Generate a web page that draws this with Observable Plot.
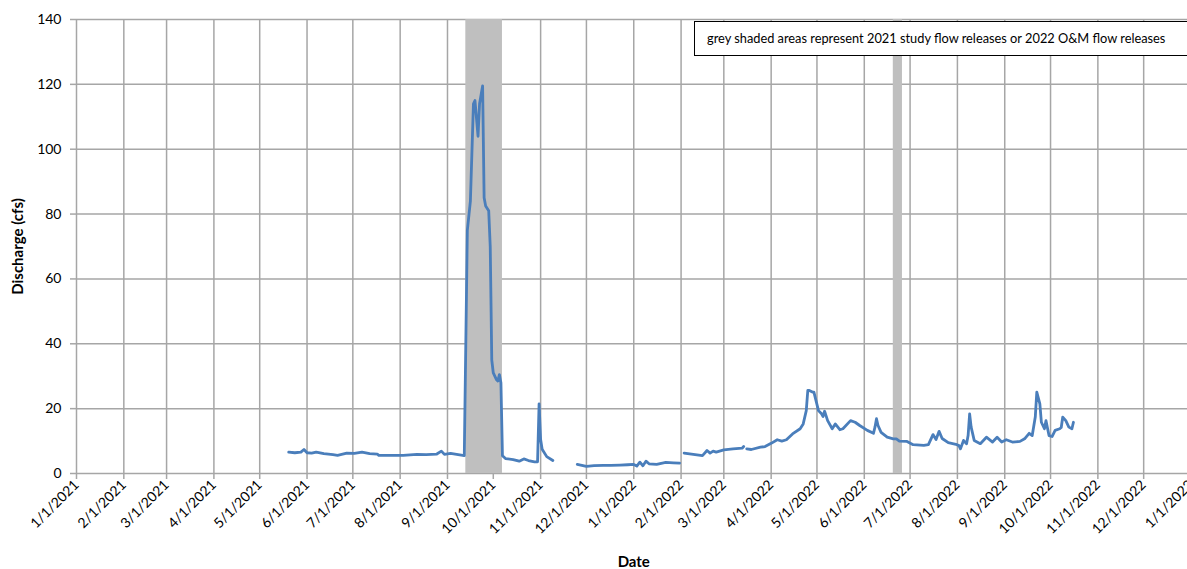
<!DOCTYPE html>
<html>
<head>
<meta charset="utf-8">
<script src="https://cdn.jsdelivr.net/npm/d3@7"></script>
<script src="https://cdn.jsdelivr.net/npm/@observablehq/plot@0.6"></script>
<style>
  html, body { margin: 0; padding: 0; background: #fff; overflow: hidden; }
  #wrap { position: relative; width: 1187px; height: 569px; font-family: Lato, "Open Sans", sans-serif; }
  #wrap svg { display: block; }
  #note {
    position: absolute; left: 694px; top: 21px; width: 489px; height: 33px;
    border: 1px solid #000; background: #fff; box-sizing: content-box;
    font-family: Lato, sans-serif; font-size: 12.8px; line-height: 33px;
    padding-left: 12px; white-space: nowrap; color: #000;
  }
  g[aria-label="x-axis tick"] path, g[aria-label="y-axis tick"] path { stroke: #a6a6a6; stroke-width: 1.5; }
  g[aria-label="x-axis label"] text, g[aria-label="y-axis label"] text { font-weight: bold; font-size: 15px; }
</style>
</head>
<body>
<div id="wrap"><div id="note">grey shaded areas represent 2021 study flow releases or 2022 O&amp;M flow releases</div></div>
<script>
// ---- data ----
const dates = [
  "2021-05-20","2021-05-24","2021-05-28","2021-05-30","2021-06-01","2021-06-04","2021-06-07","2021-06-12",
  "2021-06-18","2021-06-21","2021-06-27","2021-07-02","2021-07-07","2021-07-12","2021-07-17","2021-07-18",
  "2021-07-25","2021-08-03","2021-08-12","2021-08-18","2021-08-25","2021-08-28","2021-08-30","2021-09-03",
  "2021-09-07","2021-09-11","2021-09-12","2021-09-14","2021-09-16","2021-09-18","2021-09-19","2021-09-21",
  "2021-09-22","2021-09-24","2021-09-25","2021-09-26","2021-09-28","2021-09-29","2021-09-30","2021-10-01",
  "2021-10-03","2021-10-04","2021-10-05","2021-10-06","2021-10-07","2021-10-09","2021-10-14","2021-10-18",
  "2021-10-21","2021-10-24","2021-10-28","2021-10-30","2021-10-31","2021-11-01","2021-11-02","2021-11-05",
  "2021-11-09","2021-11-15",
  "2021-11-25","2021-11-28","2021-12-01","2021-12-06","2021-12-12","2021-12-17","2021-12-23","2021-12-28",
  "2022-01-01","2022-01-03","2022-01-05","2022-01-07","2022-01-09","2022-01-11","2022-01-16","2022-01-22",
  "2022-01-27","2022-01-31","2022-02-01",
  "2022-02-03","2022-02-09","2022-02-15","2022-02-18","2022-02-20","2022-02-22","2022-02-24","2022-03-01",
  "2022-03-07","2022-03-13","2022-03-14","2022-03-15","2022-03-16","2022-03-19","2022-03-25","2022-03-28",
  "2022-04-01","2022-04-05","2022-04-08","2022-04-11","2022-04-15","2022-04-20","2022-04-22","2022-04-24",
  "2022-04-25","2022-04-26","2022-04-28","2022-04-29","2022-05-02","2022-05-04","2022-05-05","2022-05-06",
  "2022-05-08","2022-05-11","2022-05-13","2022-05-16","2022-05-18","2022-05-23","2022-05-26","2022-05-29",
  "2022-06-03","2022-06-07","2022-06-08","2022-06-09","2022-06-10","2022-06-12","2022-06-16","2022-06-20",
  "2022-06-22","2022-06-24","2022-06-29","2022-07-03","2022-07-10","2022-07-13","2022-07-16","2022-07-18",
  "2022-07-20","2022-07-22","2022-07-26","2022-07-31","2022-08-02","2022-08-03","2022-08-05","2022-08-07",
  "2022-08-08","2022-08-09","2022-08-10","2022-08-12","2022-08-16","2022-08-20","2022-08-24","2022-08-27",
  "2022-08-30","2022-09-02","2022-09-06","2022-09-11","2022-09-14","2022-09-17","2022-09-19","2022-09-21",
  "2022-09-22","2022-09-24","2022-09-25","2022-09-27","2022-09-28","2022-09-30","2022-10-02","2022-10-04",
  "2022-10-07","2022-10-08","2022-10-09","2022-10-11","2022-10-13","2022-10-15","2022-10-16"
];
const discharge = [
  6.6, 6.4, 6.6, 7.4, 6.4, 6.3, 6.6, 6.1,
  5.8, 5.6, 6.3, 6.2, 6.6, 6.1, 6.0, 5.6,
  5.6, 5.6, 5.9, 5.8, 6.0, 6.9, 5.9, 6.2,
  5.9, 5.6, 5.5, 75, 84, 114, 115, 104,
  114, 119.5, 85, 82.5, 81, 70, 35, 31,
  29, 28.5, 30.5, 28, 5.5, 4.6, 4.3, 3.8,
  4.5, 4.0, 3.6, 3.6, 21.5, 10.5, 7.5, 5.2,
  4.0, null,
  2.8, 2.5, 2.2, 2.4, 2.5, 2.5, 2.6, 2.7,
  2.8, 2.3, 3.5, 2.4, 3.8, 3.0, 2.8, 3.4,
  3.3, 3.2, null,
  6.3, 5.9, 5.5, 7.1, 6.3, 6.9, 6.6, 7.3,
  7.6, 7.8, 8.3, null, 7.6, 7.4, 8.1, 8.3,
  9.3, 10.4, 10.0, 10.4, 12.2, 13.8, 15.3, 19.4,
  25.6, 25.6, 25.1, 25.1, 19.4, 18.4, 17.6, 19.2,
  16.3, 13.8, 15.3, 13.5, 13.8, 16.3, 15.8, 14.8,
  13.3, 12.4, 14.3, 16.9, 14.8, 12.7, 11.2, 10.7,
  10.7, 10.0, 9.9, 8.9, 8.7, 8.9, 12.0, 10.5,
  13.0, 10.8, 9.5, 9.0, 8.6, 7.6, 10.2, 9.2,
  11.7, 18.4, 14.3, 10.2, 9.2, 11.2, 9.7, 11.2,
  9.7, 10.4, 9.7, 9.9, 10.7, 12.4, 11.7, 17.4,
  25.1, 21.5, 15.8, 13.8, 16.3, 11.7, 11.4, 13.3,
  13.8, 14.2, 17.4, 16.3, 14.3, 13.8, 15.8
];
const bandStarts = ["2021-09-13", "2022-06-20"];
const bandEnds   = ["2021-10-07", "2022-06-26"];
const yTicks = [0, 20, 40, 60, 80, 100, 120, 140];
const xStart = "2021-01-01";
const xEnd = "2023-01-01";

// ---- build ----
const table = dates.map((d, i) => ({date: new Date(d), q: discharge[i]}));
const bands = bandStarts.map((s, i) => ({start: new Date(s), end: new Date(bandEnds[i])}));
const xTicks = d3.utcMonth.range(new Date(xStart), d3.utcDay.offset(new Date(xEnd), 1));
const gridColor = "#a6a6a6";

const chart = Plot.plot({
  width: 1187,
  height: 569,
  marginTop: 19,
  marginBottom: 96,
  marginLeft: 76,
  marginRight: -3.5,
  style: {fontFamily: "Lato, sans-serif", fontSize: "14px", color: "#000", background: "transparent", overflow: "hidden"},
  x: {
    type: "utc",
    domain: [new Date(xStart), new Date(xEnd)],
    ticks: xTicks,
    tickFormat: d3.utcFormat("%-m/%-d/%Y"),
    tickRotate: -45,
    tickSize: 6,
    tickPadding: 3,
    label: "Date",
    labelAnchor: "center",
    labelOffset: 93,
    labelArrow: "none"
  },
  y: {
    domain: [0, 140],
    ticks: yTicks,
    tickSize: 6,
    tickPadding: 9,
    label: "Discharge (cfs)",
    labelAnchor: "center",
    labelOffset: 64,
    labelArrow: "none"
  },
  marks: [
    Plot.ruleX(xTicks, {stroke: gridColor, strokeWidth: 1.5}),
    Plot.ruleY(yTicks, {stroke: gridColor, strokeWidth: 1.5}),
    Plot.rect(bands, {x1: "start", x2: "end", fill: "#bfbfbf"}),
    Plot.line(table, {x: "date", y: "q", stroke: "#4a7ebb", strokeWidth: 2.8, strokeLinejoin: "round"})
  ]
});
document.getElementById("wrap").prepend(chart);
</script>
</body>
</html>
